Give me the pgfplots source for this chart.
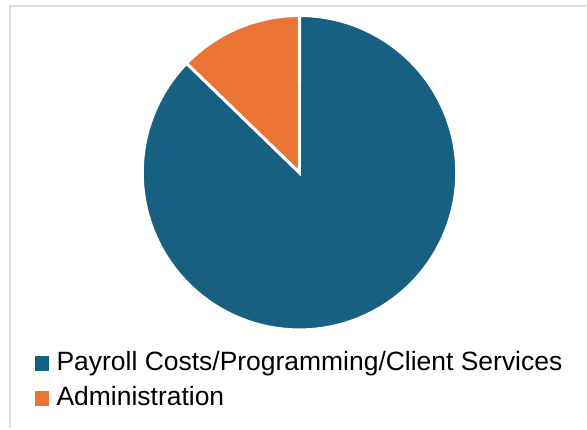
\documentclass[border=0pt]{standalone}
\usepackage{fontspec}
\setmainfont{Liberation Sans}
\usepackage{pgfplots}
\usepackage{pgfplotstable}
\pgfplotsset{compat=1.18}

\definecolor{pieblue}{HTML}{176082}
\definecolor{pieorange}{HTML}{EA7434}
\definecolor{framegray}{HTML}{DCDCDC}

% share of each slice, in percent
\pgfplotstableread{
label value
payroll 87.25
admin 12.75
}\piedata

\begin{document}
\begin{tikzpicture}
\pgfplotstablegetelem{0}{value}\of\piedata
\pgfmathsetmacro{\cut}{90-3.6*\pgfplotsretval}
\begin{axis}[
    at={(0,0)}, anchor=origin,
    width=293.5pt, height=214.5pt, scale only axis,
    xmin=0, xmax=587, ymin=0, ymax=429,
    hide axis, clip=false,
    legend style={
        at={(axis cs:34.7,77.7)}, anchor=north west,
        draw=none, fill=none, inner sep=0pt, outer sep=0pt,
        font=\fontsize{13.25pt}{15pt}\selectfont,
        row sep=4.5pt,
        nodes={inner sep=0pt, text height=10pt, text depth=3pt},
        /tikz/every odd column/.append style={column sep=3.8pt},
    },
    legend cell align=left,
    legend image code/.code={\fill[#1,draw=none] (0pt,-3.6pt) rectangle (7.2pt,3.6pt);},
]
% frame
\draw[framegray, line width=1pt] (axis cs:10,0) -- (axis cs:10,423) -- (axis cs:587,423);

\addplot[fill=pieblue, draw=white, line width=1.5pt, domain=\cut:90, samples=200, variable=\t]
    ({300+157.5*cos(\t)},{256+157.5*sin(\t)}) -- (axis cs:300,256) -- cycle;
\addlegendentry{Payroll Costs/Programming/Client Services}
\addplot[fill=pieorange, draw=white, line width=1.5pt, domain=-270:\cut, samples=60, variable=\t]
    ({300+157.5*cos(\t)},{256+157.5*sin(\t)}) -- (axis cs:300,256) -- cycle;
\addlegendentry{Administration}

\path (axis cs:0,0) rectangle (axis cs:587,429);
\end{axis}
\end{tikzpicture}
\end{document}
